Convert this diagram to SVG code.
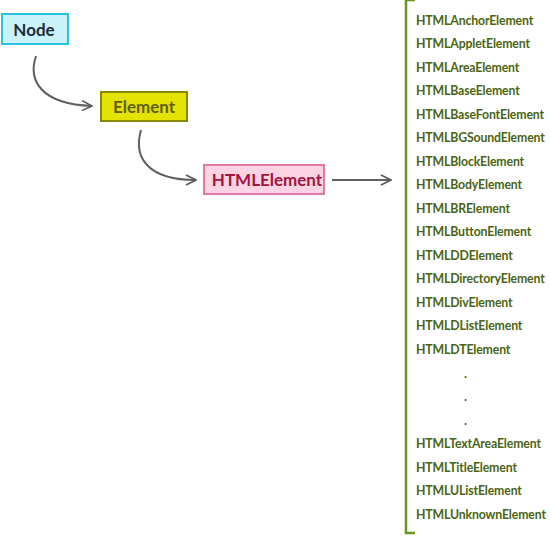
<svg xmlns="http://www.w3.org/2000/svg" width="551" height="537" viewBox="0 0 551 537">
<defs>
<marker id="arr" viewBox="0 0 12 12" refX="11" refY="6" markerWidth="12" markerHeight="12" markerUnits="userSpaceOnUse" orient="auto">
<path d="M1,1 L11,6 L1,11" fill="none" stroke="#5a5a5a" stroke-width="1.6"/>
</marker>
<style>
.lbl{font-family:Lato,"Liberation Sans",sans-serif;font-weight:bold;font-size:17px;text-anchor:middle;dominant-baseline:central}
.it{font-family:Lato,"Liberation Sans",sans-serif;font-weight:bold;font-size:12.3px;letter-spacing:-0.15px;fill:#4b6514;dominant-baseline:central}
.con{fill:none;stroke:#5f5f5f;stroke-width:2}
</style>
</defs>
<rect width="551" height="537" fill="#ffffff"/>
<g id="connectors">
<path class="con" d="M36,56 C28,80 40,104 92,106" marker-end="url(#arr)"/>
<path class="con" d="M141,130 C133,158 148,180 196,180" marker-end="url(#arr)"/>
<path class="con" d="M332,180 L391,180" marker-end="url(#arr)"/>
</g>
<g id="node-Node">
<rect x="2" y="14" width="66" height="30" fill="#c9f2fb" stroke="#29c1e3" stroke-width="2"/>
<text class="lbl" x="34" y="29" fill="#1d2b3a">Node</text>
</g>
<g id="node-Element">
<rect x="101" y="92" width="86" height="29" fill="#e3e200" stroke="#8a8800" stroke-width="2"/>
<text class="lbl" x="144" y="106" fill="#5f5e0a">Element</text>
</g>
<g id="node-HTMLElement">
<rect x="204" y="165" width="120" height="29" fill="#fbd3e3" stroke="#e37aa6" stroke-width="2"/>
<text class="lbl" x="267" y="179" fill="#a3143f">HTMLElement</text>
</g>
<g id="list">
<path d="M415,0 L406,0 L406,533 L415,533" fill="none" stroke="#6b951c" stroke-width="2.5"/>
<text class="it" x="416" y="20">HTMLAnchorElement</text>
<text class="it" x="416" y="43.5">HTMLAppletElement</text>
<text class="it" x="416" y="67">HTMLAreaElement</text>
<text class="it" x="416" y="90.5">HTMLBaseElement</text>
<text class="it" x="416" y="114">HTMLBaseFontElement</text>
<text class="it" x="416" y="137.5">HTMLBGSoundElement</text>
<text class="it" x="416" y="161">HTMLBlockElement</text>
<text class="it" x="416" y="184.5">HTMLBodyElement</text>
<text class="it" x="416" y="208">HTMLBRElement</text>
<text class="it" x="416" y="231.5">HTMLButtonElement</text>
<text class="it" x="416" y="255">HTMLDDElement</text>
<text class="it" x="416" y="278.5">HTMLDirectoryElement</text>
<text class="it" x="416" y="302">HTMLDivElement</text>
<text class="it" x="416" y="325.5">HTMLDListElement</text>
<text class="it" x="416" y="349">HTMLDTElement</text>
<text class="it" x="464" y="373">.</text>
<text class="it" x="464" y="396.5">.</text>
<text class="it" x="464" y="420">.</text>
<text class="it" x="416" y="443.5">HTMLTextAreaElement</text>
<text class="it" x="416" y="467">HTMLTitleElement</text>
<text class="it" x="416" y="490.5">HTMLUListElement</text>
<text class="it" x="416" y="514">HTMLUnknownElement</text>
</g>
</svg>
